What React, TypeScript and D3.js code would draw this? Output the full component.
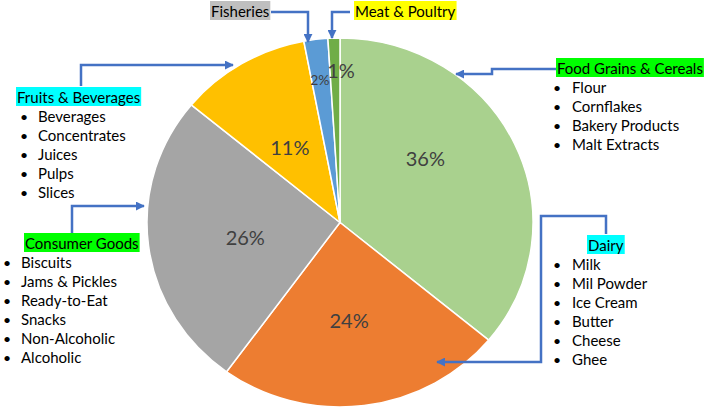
import { useEffect, useRef } from "react";
import * as d3 from "d3";

// slices, clockwise from 12 o'clock
const categories = ["Food Grains & Cereals", "Dairy", "Consumer Goods", "Fruits & Beverages", "Fisheries", "Meat & Poultry"];
const shares = [36, 24, 26, 11, 2, 1];
const sliceColors = ["#a9d18e", "#ed7d31", "#a5a5a5", "#ffc000", "#5b9bd5", "#70ad47"];

const foodGrainItems = ["Flour", "Cornflakes", "Bakery Products", "Malt Extracts"];
const dairyItems = ["Milk", "Mil Powder", "Ice Cream", "Butter", "Cheese", "Ghee"];
const consumerItems = ["Biscuits", "Jams & Pickles", "Ready-to-Eat", "Snacks", "Non-Alcoholic", "Alcoholic"];
const fruitItems = ["Beverages", "Concentrates", "Juices", "Pulps", "Slices"];

const W = 709;
const H = 410;
const FONT = "Lato, 'Open Sans', sans-serif";
const BLUE = "#4472c4";

export default function App() {
  const ref = useRef<SVGSVGElement | null>(null);

  useEffect(() => {
    if (!ref.current) return;
    const svg = d3.select(ref.current);
    svg.selectAll("*").remove();

    const cx = 340;
    const cy = 222.5;
    const rx = 193;
    const ry = 184.5;

    svg.append("defs").append("marker")
      .attr("id", "arrow")
      .attr("viewBox", "0 0 10 10")
      .attr("refX", 9)
      .attr("refY", 5)
      .attr("markerWidth", 3.6)
      .attr("markerHeight", 3.6)
      .attr("orient", "auto")
      .append("path")
      .attr("d", "M0,0 L10,5 L0,10 z")
      .attr("fill", BLUE);

    // pie (slightly squashed vertically like the source)
    const pie = d3.pie<number>().sort(null).value(d => d);
    const arcs = pie(shares);
    const arc = d3.arc<d3.PieArcDatum<number>>().innerRadius(0).outerRadius(rx);
    const g = svg.append("g").attr("transform", `translate(${cx},${cy}) scale(1,${ry / rx})`);
    g.selectAll("path")
      .data(arcs)
      .join("path")
      .attr("d", arc)
      .attr("fill", (_, i) => sliceColors[i])
      .attr("stroke", "#fff")
      .attr("stroke-width", 1.5)
      .attr("vector-effect", "non-scaling-stroke");

    // data labels: centroid, with Excel-ish best-fit nudges
    const nudge = [[-2, -25], [-3, 6], [1, 3], [-1, 4], [-8, -51], [4, -60]];
    const labelSize = [20, 20, 20, 20, 14, 20];
    arcs.forEach((a, i) => {
      const [x, y] = arc.centroid(a);
      svg.append("text")
        .attr("x", cx + x + nudge[i][0])
        .attr("y", cy + y * (ry / rx) + nudge[i][1])
        .attr("text-anchor", "middle")
        .attr("dominant-baseline", "central")
        .attr("font-family", FONT)
        .attr("font-size", labelSize[i])
        .attr("fill", "#404040")
        .text(`${shares[i]}%`);
    });

    // connectors
    const connectors: [number, number][][] = [
      [[556, 69], [492, 69], [492, 74], [456, 74]],
      [[606, 234], [606, 216], [541, 216], [541, 362], [437, 362]],
      [[72, 233], [72, 206], [144, 206]],
      [[81, 86], [81, 65], [233, 65]],
      [[271, 12], [308, 12], [308, 42]],
      [[350, 12], [332, 12], [332, 38]],
    ];
    connectors.forEach(pts => {
      svg.append("path")
        .attr("d", d3.line()(pts))
        .attr("fill", "none")
        .attr("stroke", BLUE)
        .attr("stroke-width", 2.5)
        .attr("marker-end", "url(#arrow)");
    });

    // callouts: header with highlight + bullet list
    const callouts = [
      { i: 0, hl: "#00ff00", hx: 557, hy: 74, bx: 553, tx: 572, items: foodGrainItems },
      { i: 1, hl: "#00ffff", hx: 588, hy: 251, bx: 553, tx: 572, items: dairyItems },
      { i: 2, hl: "#00ff00", hx: 25, hy: 249, bx: 3, tx: 21, items: consumerItems },
      { i: 3, hl: "#00ffff", hx: 17, hy: 103, bx: 20, tx: 38, items: fruitItems },
      { i: 4, hl: "#bfbfbf", hx: 211, hy: 17, bx: 0, tx: 0, items: [] as string[] },
      { i: 5, hl: "#ffff00", hx: 355, hy: 17, bx: 0, tx: 0, items: [] as string[] },
    ];
    const step = 19;
    callouts.forEach(c => {
      const t = svg.append("text")
        .attr("x", c.hx)
        .attr("y", c.hy)
        .attr("font-family", FONT)
        .attr("font-size", 15)
        .attr("fill", "#000")
        .text(categories[c.i]);
      const bb = (t.node() as SVGTextElement).getBBox();
      svg.insert("rect", () => t.node() as SVGTextElement)
        .attr("x", bb.x - 1)
        .attr("y", bb.y - 1)
        .attr("width", bb.width + 2)
        .attr("height", bb.height + 1)
        .attr("fill", c.hl);
      c.items.forEach((item, k) => {
        const y = c.hy + step * (k + 1);
        svg.append("text")
          .attr("x", c.bx)
          .attr("y", y)
          .attr("font-family", FONT)
          .attr("font-size", 14)
          .text("•");
        svg.append("text")
          .attr("x", c.tx)
          .attr("y", y)
          .attr("font-family", FONT)
          .attr("font-size", 15)
          .attr("fill", "#000")
          .text(item);
      });
    });
  }, []);

  return (
    <svg
      ref={ref}
      width={W}
      height={H}
      style={{ position: "absolute", left: 0, top: 0, background: "#fff" }}
    />
  );
}
